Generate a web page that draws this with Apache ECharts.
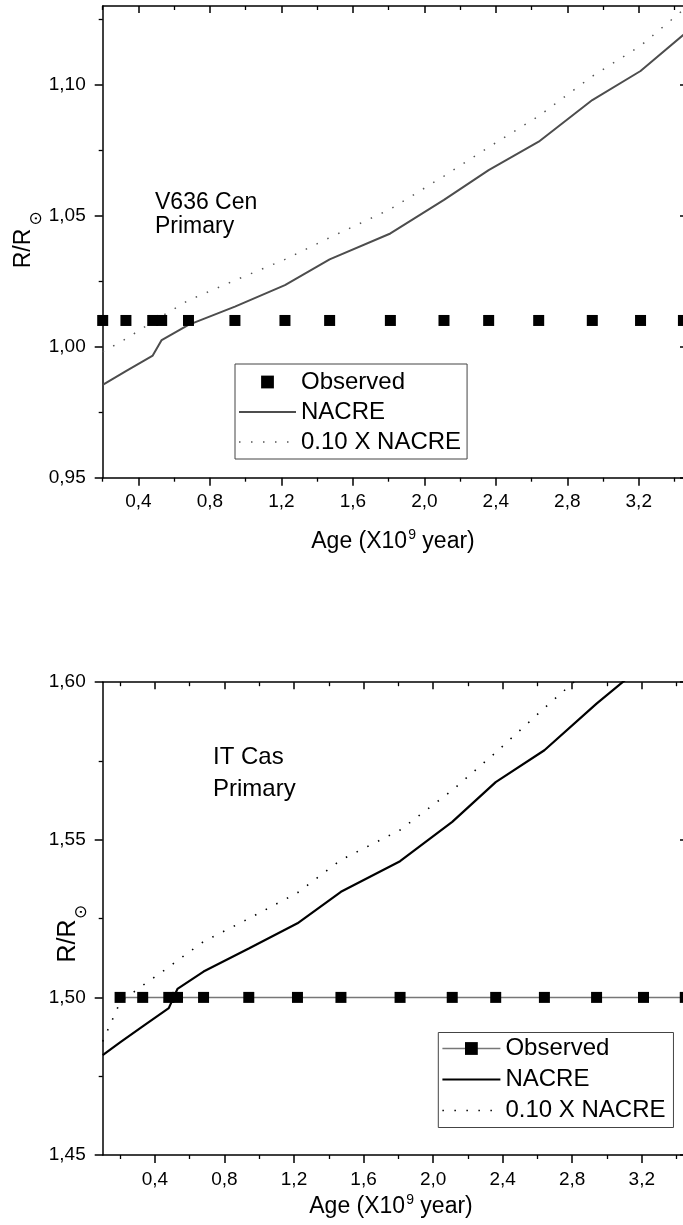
<!DOCTYPE html>
<html><head><meta charset="utf-8">
<script src="https://cdn.jsdelivr.net/npm/echarts@6/dist/echarts.min.js"></script>
<style>html,body{margin:0;padding:0;background:#fff}#c{width:683px;height:1225px}</style>
</head><body><div id="c"></div>
<script>
// ---- data ----
const obsAges = [0.2, 0.33, 0.48, 0.53, 0.68, 0.94, 1.22, 1.47, 1.81, 2.11, 2.36, 2.64, 2.94, 3.21, 3.45];
const v636Observed = [1.01, 1.01, 1.01, 1.01, 1.01, 1.01, 1.01, 1.01, 1.01, 1.01, 1.01, 1.01, 1.01, 1.01, 1.01];
const v636Nacre = [0.9854, 0.9907, 0.9966, 1.0025, 1.0083, 1.0153, 1.0235, 1.0333, 1.0432, 1.0560, 1.0674, 1.0782, 1.0941, 1.1052, 1.1190];
const v636Nacre010 = [0.9980, 1.0030, 1.0095, 1.0116, 1.0177, 1.0253, 1.0333, 1.0416, 1.0525, 1.0651, 1.0761, 1.0880, 1.1032, 1.1148, 1.1286];

const itCasModelAges = [0.1, 0.2, 0.33, 0.48, 0.53, 0.68, 0.94, 1.22, 1.47, 1.81, 2.11, 2.36, 2.64, 2.94, 3.21, 3.45];
const itCasObserved = [1.50, 1.50, 1.50, 1.50, 1.50, 1.50, 1.50, 1.50, 1.50, 1.50, 1.50, 1.50, 1.50, 1.50, 1.50];
const itCasNacre = [1.4817, 1.4857, 1.4908, 1.4966, 1.5027, 1.5082, 1.5155, 1.5235, 1.5335, 1.5432, 1.5557, 1.5683, 1.5784, 1.5932, 1.6055, 1.6170];
const itCasNacre010 = [1.4860, 1.4985, 1.5038, 1.5096, 1.5117, 1.5177, 1.5250, 1.5332, 1.5436, 1.5531, 1.5657, 1.5777, 1.5918, 1.6064, 1.6230, 1.6350];

const xMajorTicks = [0.4, 0.8, 1.2, 1.6, 2.0, 2.4, 2.8, 3.2];
const xMinorTicks = [0.2, 0.6, 1.0, 1.4, 1.8, 2.2, 2.6, 3.0, 3.4];
const v636YMajor = [0.95, 1.00, 1.05, 1.10];
const v636YMinor = [0.975, 1.025, 1.075, 1.125];
const itCasYMajor = [1.45, 1.50, 1.55, 1.60];
const itCasYMinor = [1.475, 1.525, 1.575];
const legendNames = ['Observed', 'NACRE', '0.10 X NACRE'];

// ---- helpers ----
const FONT = '"Liberation Sans", Arial, Helvetica, sans-serif';
const fmt1 = v => v.toFixed(1).replace('.', ',');
const fmt2 = v => v.toFixed(2).replace('.', ',');
const zip = (xs, ys) => ys.map((y, i) => [xs[i], y]);
const tickLS = w => ({ color: '#000', width: w });

function xAxesFor(gi, min, max) {
  const base = { type: 'value', gridIndex: gi, min, max, splitLine: { show: false },
    axisLine: { show: true, onZero: false, lineStyle: { color: '#000', width: 1.5 } } };
  return [
    Object.assign({}, base, { position: 'bottom',
      axisTick: { show: true, customValues: xMajorTicks, length: 8, lineStyle: tickLS(1.5) },
      axisLabel: { show: true, customValues: xMajorTicks, formatter: fmt1, fontSize: 19, color: '#000', fontFamily: FONT, margin: 15 } }),
    Object.assign({}, base, { position: 'bottom', axisLine: { show: false },
      axisTick: { show: true, customValues: xMinorTicks, length: 4, lineStyle: tickLS(1.3) }, axisLabel: { show: false } }),
    Object.assign({}, base, { position: 'top',
      axisTick: { show: true, inside: true, customValues: xMajorTicks, length: 7, lineStyle: tickLS(1.5) }, axisLabel: { show: false } }),
    Object.assign({}, base, { position: 'top', axisLine: { show: false },
      axisTick: { show: true, inside: true, customValues: xMinorTicks, length: 4, lineStyle: tickLS(1.3) }, axisLabel: { show: false } })
  ];
}
function yAxesFor(gi, min, max, majors, minors) {
  const base = { type: 'value', gridIndex: gi, min, max, splitLine: { show: false },
    axisLine: { show: true, onZero: false, lineStyle: { color: '#000', width: 1.5 } } };
  return [
    Object.assign({}, base, { position: 'left',
      axisTick: { show: true, customValues: majors, length: 8, lineStyle: tickLS(1.5) },
      axisLabel: { show: true, customValues: majors, formatter: fmt2, fontSize: 19, color: '#000', fontFamily: FONT, margin: 17 } }),
    Object.assign({}, base, { position: 'left', axisLine: { show: false },
      axisTick: { show: true, customValues: minors, length: 4, lineStyle: tickLS(1.3) }, axisLabel: { show: false } }),
    Object.assign({}, base, { position: 'right',
      axisTick: { show: true, inside: true, customValues: majors, length: 7, lineStyle: tickLS(1.5) }, axisLabel: { show: false } }),
    Object.assign({}, base, { position: 'right', axisLine: { show: false },
      axisTick: { show: true, inside: true, customValues: minors, length: 4, lineStyle: tickLS(1.3) }, axisLabel: { show: false } })
  ];
}

const dotted = [1.5, 10.5];
const hiddenSym = { opacity: 0 };
const option = {
  animation: false,
  backgroundColor: '#fff',
  grid: [
    { left: 102.7, width: 584.3, top: 6, height: 471.7, outerBoundsMode: 'none', containLabel: false },
    { left: 102.7, width: 584.3, top: 682.2, height: 472.8, outerBoundsMode: 'none', containLabel: false }
  ],
  xAxis: [].concat(xAxesFor(0, 0.2, 3.47), xAxesFor(1, 0.1, 3.46)),
  yAxis: [].concat(yAxesFor(0, 0.95, 1.13, v636YMajor, v636YMinor), yAxesFor(1, 1.45, 1.60, itCasYMajor, itCasYMinor)),
  legend: [
    { data: [
        { name: legendNames[0], lineStyle: { opacity: 0, width: 0 } },
        { name: legendNames[1], lineStyle: { width: 2 }, itemStyle: hiddenSym },
        { name: legendNames[2], lineStyle: { width: 1.5 }, itemStyle: hiddenSym }],
      orient: 'vertical', left: 235, top: 364, itemWidth: 57, itemHeight: 16, itemGap: 6,
      padding: [6, 6, 5, 3], borderColor: '#444', borderWidth: 1, selectedMode: false,
      textStyle: { fontSize: 24, color: '#000', fontFamily: FONT } },
    { data: [
        { name: legendNames[0] + '\u200b', lineStyle: { width: 1.5 } },
        { name: legendNames[1] + '\u200b', lineStyle: { width: 2.2 }, itemStyle: hiddenSym },
        { name: legendNames[2] + '\u200b', lineStyle: { width: 1.6 }, itemStyle: hiddenSym }],
      orient: 'vertical', left: 438.3, top: 1032.5, itemWidth: 58, itemHeight: 16, itemGap: 7,
      padding: [4, 8, 5, 3], borderColor: '#444', borderWidth: 1, selectedMode: false,
      textStyle: { fontSize: 24, color: '#000', fontFamily: FONT } }
  ],
  series: [
    { type: 'line', name: legendNames[0], xAxisIndex: 0, yAxisIndex: 0, data: zip(obsAges, v636Observed),
      symbol: 'rect', symbolSize: 11, showSymbol: true, itemStyle: { color: '#000' },
      lineStyle: { width: 0, opacity: 0 }, z: 4 },
    { type: 'line', name: legendNames[1], xAxisIndex: 0, yAxisIndex: 0, data: zip(obsAges, v636Nacre),
      symbol: 'none', itemStyle: { color: '#4d4d4d' }, lineStyle: { color: '#4d4d4d', width: 2 }, z: 3 },
    { type: 'line', name: legendNames[2], xAxisIndex: 0, yAxisIndex: 0, data: zip(obsAges, v636Nacre010),
      symbol: 'none', itemStyle: { color: '#555' }, lineStyle: { color: '#555', width: 1.5, type: dotted }, z: 3 },

    { type: 'line', name: legendNames[0] + '\u200b', xAxisIndex: 4, yAxisIndex: 4, data: zip(obsAges, itCasObserved),
      symbol: 'rect', symbolSize: 11, showSymbol: true, itemStyle: { color: '#000' },
      lineStyle: { color: '#777', width: 1.5 }, z: 4 },
    { type: 'line', name: legendNames[1] + '\u200b', xAxisIndex: 4, yAxisIndex: 4, data: zip(itCasModelAges, itCasNacre),
      symbol: 'none', itemStyle: { color: '#000' }, lineStyle: { color: '#000', width: 2.2 }, z: 3 },
    { type: 'line', name: legendNames[2] + '\u200b', xAxisIndex: 4, yAxisIndex: 4, data: zip(itCasModelAges, itCasNacre010),
      symbol: 'none', itemStyle: { color: '#000' }, lineStyle: { color: '#000', width: 1.6, type: dotted }, z: 3 }
  ],
  graphic: [
    { type: 'text', x: 155, y: 191, style: { text: 'V636 Cen\nPrimary', fontSize: 23, fontFamily: FONT, fill: '#000',
      lineHeight: 24, align: 'left', verticalAlign: 'top' } },
    { type: 'text', x: 213, y: 742, style: { text: 'IT Cas\nPrimary', fontSize: 24, fontFamily: FONT, fill: '#000',
      lineHeight: 31.5, align: 'left', verticalAlign: 'top' } },
    { type: 'text', x: 393, y: 541.7, style: { text: '{a|Age (X10}{s|9}{a| year)}', align: 'center', verticalAlign: 'middle',
      rich: { a: { fontSize: 23, fontFamily: FONT, lineHeight: 28, fill: '#000', color: '#000' },
              s: { fontSize: 14, fontFamily: FONT, lineHeight: 14, verticalAlign: 'top', padding: [0, 0, 0, 1], fill: '#000', color: '#000' } } } },
    { type: 'text', x: 391, y: 1206.7, style: { text: '{a|Age (X10}{s|9}{a| year)}', align: 'center', verticalAlign: 'middle',
      rich: { a: { fontSize: 23, fontFamily: FONT, lineHeight: 28, fill: '#000', color: '#000' },
              s: { fontSize: 14, fontFamily: FONT, lineHeight: 14, verticalAlign: 'top', padding: [0, 0, 0, 1], fill: '#000', color: '#000' } } } },
    { type: 'group', x: 23.4, y: 248.5, rotation: Math.PI / 2, children: [
      { type: 'text', x: 0, y: 0, style: { text: 'R/R', fontSize: 23, fontFamily: FONT, fill: '#000', align: 'center', verticalAlign: 'middle' } },
      { type: 'text', x: 30, y: 13, style: { text: '\u2299', fontSize: 17, fontFamily: '"DejaVu Sans"', fill: '#000', align: 'center', verticalAlign: 'middle' } }
    ] },
    { type: 'group', x: 68.3, y: 941, rotation: Math.PI / 2, children: [
      { type: 'text', x: 0, y: 0, style: { text: 'R/R', fontSize: 25, fontFamily: FONT, fill: '#000', align: 'center', verticalAlign: 'middle' } },
      { type: 'text', x: 29, y: 13, style: { text: '\u2299', fontSize: 17, fontFamily: '"DejaVu Sans"', fill: '#000', align: 'center', verticalAlign: 'middle' } }
    ] }
  ]
};
const chart = echarts.init(document.getElementById('c'), null, { renderer: 'canvas' });
chart.setOption(option);
</script>
</body></html>
